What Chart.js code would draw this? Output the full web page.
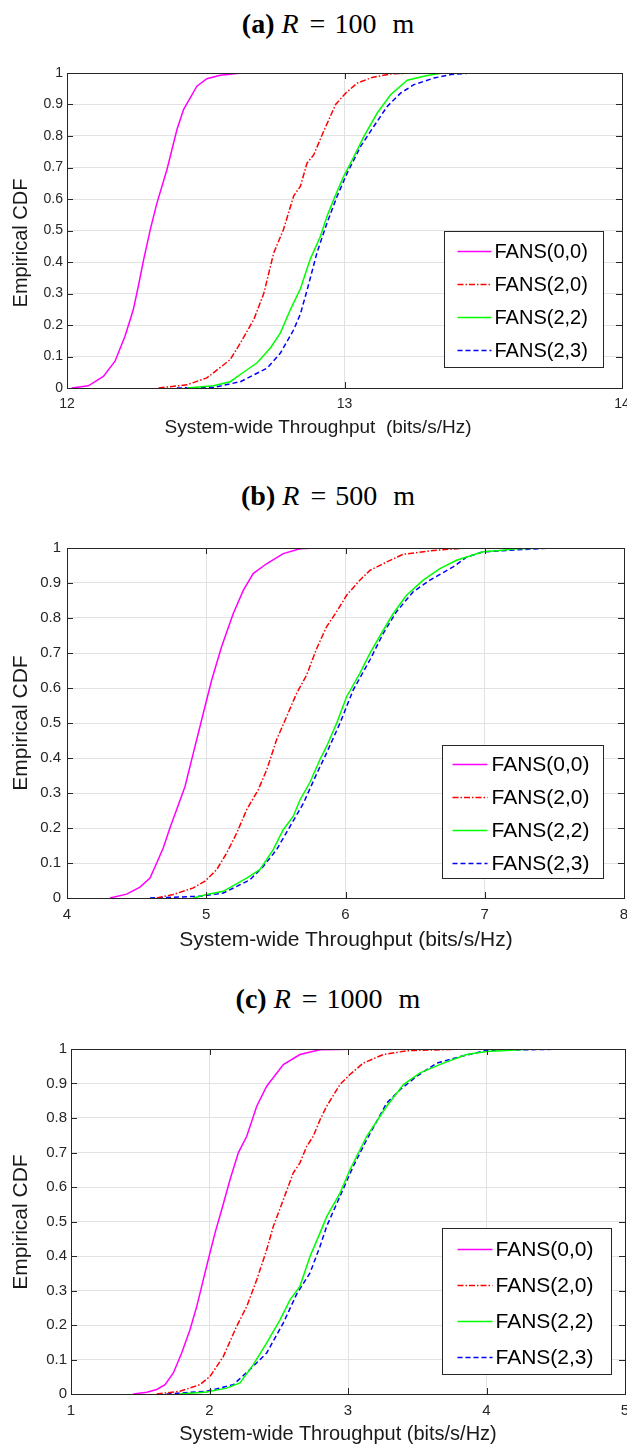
<!DOCTYPE html>
<html>
<head>
<meta charset="utf-8">
<script src="https://cdn.jsdelivr.net/npm/chart.js"></script>
<style>
  body { margin: 0; width: 627px; height: 1444px; overflow: hidden; background: #fff; position: relative;
         font-family: "Liberation Sans", Arial, sans-serif; color: #1a1a1a; }
  canvas { position: absolute; left: 0; }
  .ttl { position: absolute; left: 0; width: 656px; text-align: center; font-family: "Liberation Serif", serif;
         font-size: 28px; color: #000; white-space: nowrap; }
  .ttl i { margin-right: 2px; }
  .ttl .sp { display: inline-block; width: 9px; }
  .lab { position: absolute; white-space: pre; transform: translate(-50%, -50%); }
  .rot { transform: translate(-50%, -50%) rotate(-90deg); }
</style>
</head>
<body>
<div class="ttl" style="top:8px"><b>(a)</b> <i>R</i><span class="sp"></span>=<span class="sp"></span>100<span class="sp"></span> m</div>
<div class="ttl" style="top:480px"><b>(b)</b> <i>R</i><span class="sp"></span>=<span class="sp"></span>500<span class="sp"></span> m</div>
<div class="ttl" style="top:983px"><b>(c)</b> <i>R</i><span class="sp"></span>=<span class="sp"></span>1000<span class="sp"></span> m</div>

<canvas id="cA"></canvas>
<canvas id="cB"></canvas>
<canvas id="cC"></canvas>

<div class="lab rot" style="left:20px;top:243px;font-size:20px">Empirical CDF</div>
<div class="lab" style="left:318px;top:427px;font-size:19px">System-wide Throughput  (bits/s/Hz)</div>
<div class="lab rot" style="left:20px;top:723px;font-size:21px">Empirical CDF</div>
<div class="lab" style="left:346px;top:939px;font-size:21px">System-wide Throughput (bits/s/Hz)</div>
<div class="lab rot" style="left:20px;top:1222px;font-size:21px">Empirical CDF</div>
<div class="lab" style="left:338px;top:1433px;font-size:20px">System-wide Throughput (bits/s/Hz)</div>

<script>
const NAMES = ['FANS(0,0)', 'FANS(2,0)', 'FANS(2,2)', 'FANS(2,3)'];
const COLORS = ['#ff00ff', '#ff0000', '#00ff00', '#0000ff'];
const DASHES = [[], [6, 2, 1.5, 2], [], [5, 3]];

// (a) R = 100 m
const a00x = [12.017, 12.077, 12.131, 12.173, 12.209, 12.239, 12.257, 12.276, 12.300, 12.324, 12.360, 12.396, 12.420, 12.468, 12.504, 12.552, 12.630];
const a00y = [0, 0.007, 0.037, 0.085, 0.164, 0.249, 0.323, 0.407, 0.503, 0.587, 0.693, 0.820, 0.884, 0.958, 0.982, 0.993, 1];
const a20x = [12.330, 12.432, 12.504, 12.588, 12.625, 12.673, 12.709, 12.745, 12.780, 12.817, 12.841, 12.865, 12.889, 12.925, 12.968, 13.004, 13.046, 13.100, 13.166, 13.250];
const a20y = [0, 0.010, 0.032, 0.090, 0.143, 0.217, 0.300, 0.429, 0.503, 0.610, 0.640, 0.714, 0.740, 0.815, 0.900, 0.936, 0.968, 0.986, 0.997, 1];
const a22x = [12.432, 12.528, 12.588, 12.636, 12.685, 12.733, 12.769, 12.805, 12.841, 12.877, 12.913, 12.937, 12.961, 12.997, 13.034, 13.070, 13.118, 13.166, 13.226, 13.298, 13.347, 13.551];
const a22y = [0, 0.007, 0.020, 0.050, 0.080, 0.127, 0.175, 0.249, 0.315, 0.410, 0.481, 0.545, 0.598, 0.672, 0.735, 0.799, 0.873, 0.931, 0.977, 0.992, 0.999, 1];
const a23x = [12.396, 12.528, 12.625, 12.721, 12.769, 12.817, 12.841, 12.865, 12.901, 12.937, 12.973, 13.010, 13.058, 13.106, 13.154, 13.202, 13.250, 13.322, 13.383, 13.455];
const a23y = [0, 0.002, 0.020, 0.063, 0.111, 0.185, 0.235, 0.310, 0.430, 0.524, 0.608, 0.683, 0.767, 0.831, 0.894, 0.936, 0.963, 0.984, 0.995, 1];

// (b) R = 500 m
const b00x = [4.309, 4.428, 4.524, 4.596, 4.644, 4.691, 4.739, 4.787, 4.847, 4.907, 4.955, 4.991, 5.039, 5.110, 5.194, 5.266, 5.337, 5.433, 5.553, 5.673, 5.793];
const b00y = [0, 0.011, 0.031, 0.057, 0.100, 0.143, 0.200, 0.252, 0.318, 0.414, 0.490, 0.547, 0.623, 0.718, 0.813, 0.879, 0.927, 0.955, 0.984, 0.998, 1];
const b20x = [4.644, 4.763, 4.907, 4.991, 5.075, 5.146, 5.218, 5.290, 5.373, 5.434, 5.505, 5.577, 5.649, 5.721, 5.793, 5.864, 5.936, 6.008, 6.103, 6.175, 6.295, 6.414, 6.630, 6.869];
const b20y = [0, 0.010, 0.029, 0.048, 0.081, 0.128, 0.185, 0.252, 0.309, 0.366, 0.452, 0.518, 0.585, 0.637, 0.713, 0.775, 0.818, 0.865, 0.908, 0.936, 0.960, 0.982, 0.993, 1];
const b22x = [4.907, 5.003, 5.122, 5.290, 5.385, 5.481, 5.553, 5.624, 5.673, 5.744, 5.816, 5.864, 5.936, 6.008, 6.103, 6.175, 6.271, 6.343, 6.438, 6.558, 6.678, 6.797, 6.989, 7.108, 7.228, 7.467];
const b22y = [0, 0.010, 0.019, 0.057, 0.081, 0.138, 0.195, 0.233, 0.280, 0.330, 0.395, 0.433, 0.499, 0.575, 0.642, 0.699, 0.765, 0.813, 0.865, 0.908, 0.941, 0.965, 0.989, 0.993, 0.998, 1];
const b23x = [4.596, 4.955, 5.122, 5.314, 5.409, 5.505, 5.601, 5.697, 5.793, 5.864, 5.960, 6.055, 6.175, 6.271, 6.366, 6.486, 6.606, 6.773, 6.869, 6.989, 7.156, 7.467];
const b23y = [0, 0.005, 0.014, 0.052, 0.090, 0.138, 0.204, 0.270, 0.355, 0.414, 0.499, 0.594, 0.680, 0.756, 0.818, 0.875, 0.908, 0.946, 0.974, 0.989, 0.993, 1];

// (c) R = 1000 m
const c00x = [1.450, 1.547, 1.619, 1.679, 1.739, 1.799, 1.859, 1.908, 1.955, 1.991, 2.040, 2.088, 2.148, 2.208, 2.269, 2.341, 2.413, 2.533, 2.653, 2.798, 3.135];
const c00y = [0, 0.005, 0.013, 0.027, 0.061, 0.119, 0.186, 0.254, 0.331, 0.389, 0.467, 0.534, 0.621, 0.699, 0.747, 0.834, 0.892, 0.955, 0.984, 0.998, 1];
const c20x = [1.619, 1.787, 1.931, 2.004, 2.100, 2.196, 2.269, 2.341, 2.413, 2.461, 2.533, 2.605, 2.653, 2.702, 2.749, 2.798, 2.846, 2.942, 3.014, 3.110, 3.255, 3.424, 3.857];
const c20y = [0, 0.008, 0.027, 0.051, 0.109, 0.196, 0.254, 0.331, 0.418, 0.486, 0.563, 0.641, 0.670, 0.718, 0.747, 0.795, 0.834, 0.897, 0.926, 0.959, 0.984, 0.995, 1];
const c22x = [1.787, 1.980, 2.124, 2.220, 2.316, 2.413, 2.509, 2.581, 2.653, 2.726, 2.798, 2.846, 2.942, 3.014, 3.135, 3.279, 3.400, 3.520, 3.688, 3.857, 4.001, 4.338];
const c22y = [0, 0.006, 0.017, 0.032, 0.085, 0.148, 0.215, 0.273, 0.312, 0.399, 0.467, 0.514, 0.582, 0.650, 0.747, 0.834, 0.897, 0.931, 0.959, 0.984, 0.993, 1];
const c23x = [1.691, 1.980, 2.172, 2.292, 2.413, 2.533, 2.630, 2.726, 2.798, 2.846, 2.942, 3.038, 3.135, 3.279, 3.376, 3.496, 3.640, 3.809, 4.001, 4.627];
const c23y = [0, 0.008, 0.027, 0.071, 0.119, 0.206, 0.290, 0.351, 0.428, 0.486, 0.573, 0.660, 0.737, 0.843, 0.882, 0.921, 0.959, 0.978, 0.996, 1];

const pairs = (xs, ys) => xs.map((x, i) => ({ x: x, y: ys[i] }));

// matlab style box, inward ticks on all sides and a boxed legend inside the axes
const matlabBox = {
  id: 'matlabBox',
  afterDatasetsDraw(chart, args, o) {
    const { ctx, chartArea: a, scales: { x, y } } = chart;
    ctx.save();
    ctx.strokeStyle = '#262626';
    ctx.lineWidth = 1;
    ctx.setLineDash([]);
    ctx.beginPath();
    x.ticks.forEach((t) => {
      const px = Math.round(x.getPixelForValue(t.value)) + 0.5;
      ctx.moveTo(px, a.bottom); ctx.lineTo(px, a.bottom - 6);
      ctx.moveTo(px, a.top); ctx.lineTo(px, a.top + 6);
    });
    y.ticks.forEach((t) => {
      const py = Math.round(y.getPixelForValue(t.value)) + 0.5;
      ctx.moveTo(a.left, py); ctx.lineTo(a.left + 6, py);
      ctx.moveTo(a.right, py); ctx.lineTo(a.right - 6, py);
    });
    ctx.stroke();
    ctx.strokeRect(Math.round(a.left) + 0.5, Math.round(a.top) + 0.5, Math.round(a.right - a.left), Math.round(a.bottom - a.top));

    // legend
    const L = o.legend;
    const bx = Math.round(a.left + L.left) + 0.5, by = Math.round(a.top + L.top) + 0.5;
    ctx.fillStyle = '#fff';
    ctx.fillRect(bx, by, L.width, L.height);
    ctx.strokeStyle = '#262626';
    ctx.strokeRect(bx, by, L.width, L.height);
    ctx.font = L.font + 'px "Liberation Sans", Arial, sans-serif';
    ctx.textBaseline = 'middle';
    ctx.textAlign = 'left';
    chart.data.datasets.forEach((ds, i) => {
      const ry = Math.round(by + L.rowTop + i * L.rowGap) + 0.5;
      ctx.strokeStyle = ds.borderColor;
      ctx.lineWidth = 1.5;
      ctx.setLineDash(ds.borderDash);
      ctx.beginPath();
      ctx.moveTo(bx + L.lineX, ry);
      ctx.lineTo(bx + L.lineX + L.lineLen, ry);
      ctx.stroke();
      ctx.fillStyle = '#000';
      ctx.fillText(ds.label, bx + L.textX, ry + 1);
    });
    ctx.restore();
  }
};

const makeChart = (id, p) => {
  const cv = document.getElementById(id);
  const W = 660, padTop = 15, xAxisH = 30;
  const H = (p.bottom - p.top) + padTop + xAxisH;
  cv.width = W; cv.height = H;
  cv.style.width = W + 'px'; cv.style.height = H + 'px';
  cv.style.top = (p.top - padTop) + 'px';

  const tickFont = { family: '"Liberation Sans", Arial, sans-serif', size: p.tickSize };
  return new Chart(cv.getContext('2d'), {
    type: 'scatter',
    data: {
      datasets: p.series.map((s, i) => ({
        label: NAMES[i],
        data: pairs(s[0], s[1]),
        showLine: true,
        borderColor: COLORS[i],
        backgroundColor: COLORS[i],
        borderDash: DASHES[i],
        borderWidth: 1.5,
        pointRadius: 0,
        tension: 0
      }))
    },
    options: {
      responsive: false,
      animation: false,
      devicePixelRatio: 1,
      layout: { padding: { top: padTop, right: W - p.right, left: 0, bottom: 0 } },
      plugins: {
        legend: { display: false },
        tooltip: { enabled: false },
        matlabBox: { legend: p.legend }
      },
      scales: {
        x: {
          type: 'linear', min: p.xmin, max: p.xmax,
          ticks: { stepSize: 1, color: '#262626', font: tickFont, padding: p.xPad, maxRotation: 0 },
          grid: { color: '#e2e2e2', drawTicks: false },
          border: { display: false },
          afterFit: (s) => { s.height = xAxisH; }
        },
        y: {
          type: 'linear', min: 0, max: 1,
          ticks: { stepSize: 0.1, color: '#262626', font: tickFont, padding: p.yPad,
                   callback: (v) => String(+v.toFixed(1)) },
          grid: { color: '#e2e2e2', drawTicks: false },
          border: { display: false },
          afterFit: (s) => { s.width = p.left; }
        }
      }
    },
    plugins: [matlabBox]
  });
};

makeChart('cA', {
  left: 67, top: 73, right: 622, bottom: 388, xmin: 12, xmax: 14, tickSize: 14, xPad: 8, yPad: 4,
  series: [[a00x, a00y], [a20x, a20y], [a22x, a22y], [a23x, a23y]],
  legend: { left: 377, top: 158, width: 159, height: 136, rowTop: 19, rowGap: 33.3, lineX: 13, lineLen: 34, textX: 50, font: 20 }
});
makeChart('cB', {
  left: 67, top: 548, right: 624, bottom: 898, xmin: 4, xmax: 8, tickSize: 15, xPad: 8, yPad: 6,
  series: [[b00x, b00y], [b20x, b20y], [b22x, b22y], [b23x, b23y]],
  legend: { left: 375, top: 197, width: 161, height: 133, rowTop: 18, rowGap: 33, lineX: 10, lineLen: 35, textX: 49, font: 21 }
});
makeChart('cC', {
  left: 71, top: 1049, right: 625, bottom: 1394, xmin: 1, xmax: 5, tickSize: 15, xPad: 8, yPad: 4,
  series: [[c00x, c00y], [c20x, c20y], [c22x, c22y], [c23x, c23y]],
  legend: { left: 371, top: 179, width: 169, height: 146, rowTop: 20, rowGap: 36, lineX: 15, lineLen: 35, textX: 53, font: 21 }
});
</script>
</body>
</html>
